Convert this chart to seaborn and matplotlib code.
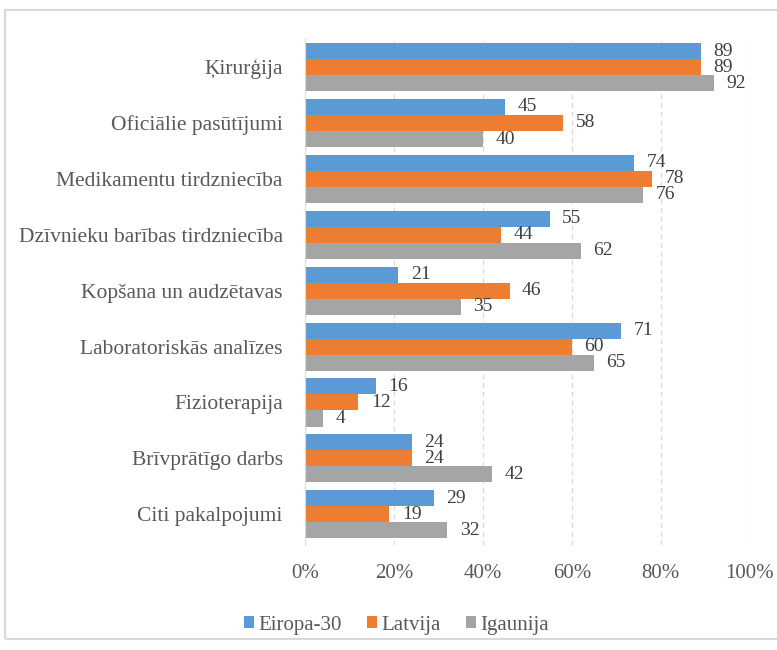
import pandas as pd
import matplotlib.pyplot as plt
import seaborn as sns
from matplotlib.patches import Rectangle
from matplotlib.ticker import FuncFormatter

categories = ["Ķirurģija", "Oficiālie pasūtījumi", "Medikamentu tirdzniecība",
              "Dzīvnieku barības tirdzniecība", "Kopšana un audzētavas",
              "Laboratoriskās analīzes", "Fizioterapija", "Brīvprātīgo darbs",
              "Citi pakalpojumi"]
eiropa = [89, 45, 74, 55, 21, 71, 16, 24, 29]
latvija = [89, 58, 78, 44, 46, 60, 12, 24, 19]
igaunija = [92, 40, 76, 62, 35, 65, 4, 42, 32]
series = ["Eiropa-30", "Latvija", "Igaunija"]

df = pd.DataFrame({"Eiropa-30": eiropa, "Latvija": latvija, "Igaunija": igaunija},
                  index=categories)
long = df.reset_index().melt(id_vars="index", var_name="series", value_name="value")
long = long.rename(columns={"index": "category"})

sns.set_style("white")
plt.rcParams['font.family'] = ['Liberation Serif', 'DejaVu Serif']

fig = plt.figure(figsize=(7.77, 6.5), dpi=100)
ax = fig.add_axes([0.3925, 0.1615, 0.5725, 0.78])

palette = ["#5B9BD5", "#ED7D31", "#A5A5A5"]
sns.barplot(data=long, y="category", x="value", hue="series", order=categories,
            hue_order=series, palette=palette, orient="h", width=0.86,
            saturation=1, edgecolor="none", ax=ax)

for cont in ax.containers:
    ax.bar_label(cont, padding=9, fontsize=14, color="#404040")

ax.set_xlim(0, 100)
ax.set_ylim(8.55, -0.52)
ax.set_xticks([0, 20, 40, 60, 80, 100])
ax.xaxis.set_major_formatter(FuncFormatter(lambda v, p: f"{v:.0f}%"))
ax.grid(axis="x", color="#D9D9D9", linestyle=(0, (4, 3)), linewidth=0.9)
ax.set_axisbelow(True)
for s in ["top", "right", "bottom"]:
    ax.spines[s].set_visible(False)
ax.spines["left"].set_color("#D9D9D9")
ax.tick_params(axis="x", colors="#595959", labelsize=15, length=0, pad=14)
ax.tick_params(axis="y", colors="#595959", labelsize=15.5, length=0, pad=16)
ax.set_xlabel("")
ax.set_ylabel("")

handles, labels = ax.get_legend_handles_labels()
ax.legend(handles, labels, loc="center", bbox_to_anchor=(0.51, 0.038),
          bbox_transform=fig.transFigure, ncol=3, frameon=False, fontsize=15,
          handlelength=0.5, handleheight=0.5, handletextpad=0.2, columnspacing=1.2,
          labelcolor="#595959")

fig.patches.append(Rectangle((0.007, 0.017), 1.0, 0.967, transform=fig.transFigure,
                             fill=False, edgecolor="#D9D9D9", linewidth=1.5))

fig.savefig("out.png", dpi=100)
